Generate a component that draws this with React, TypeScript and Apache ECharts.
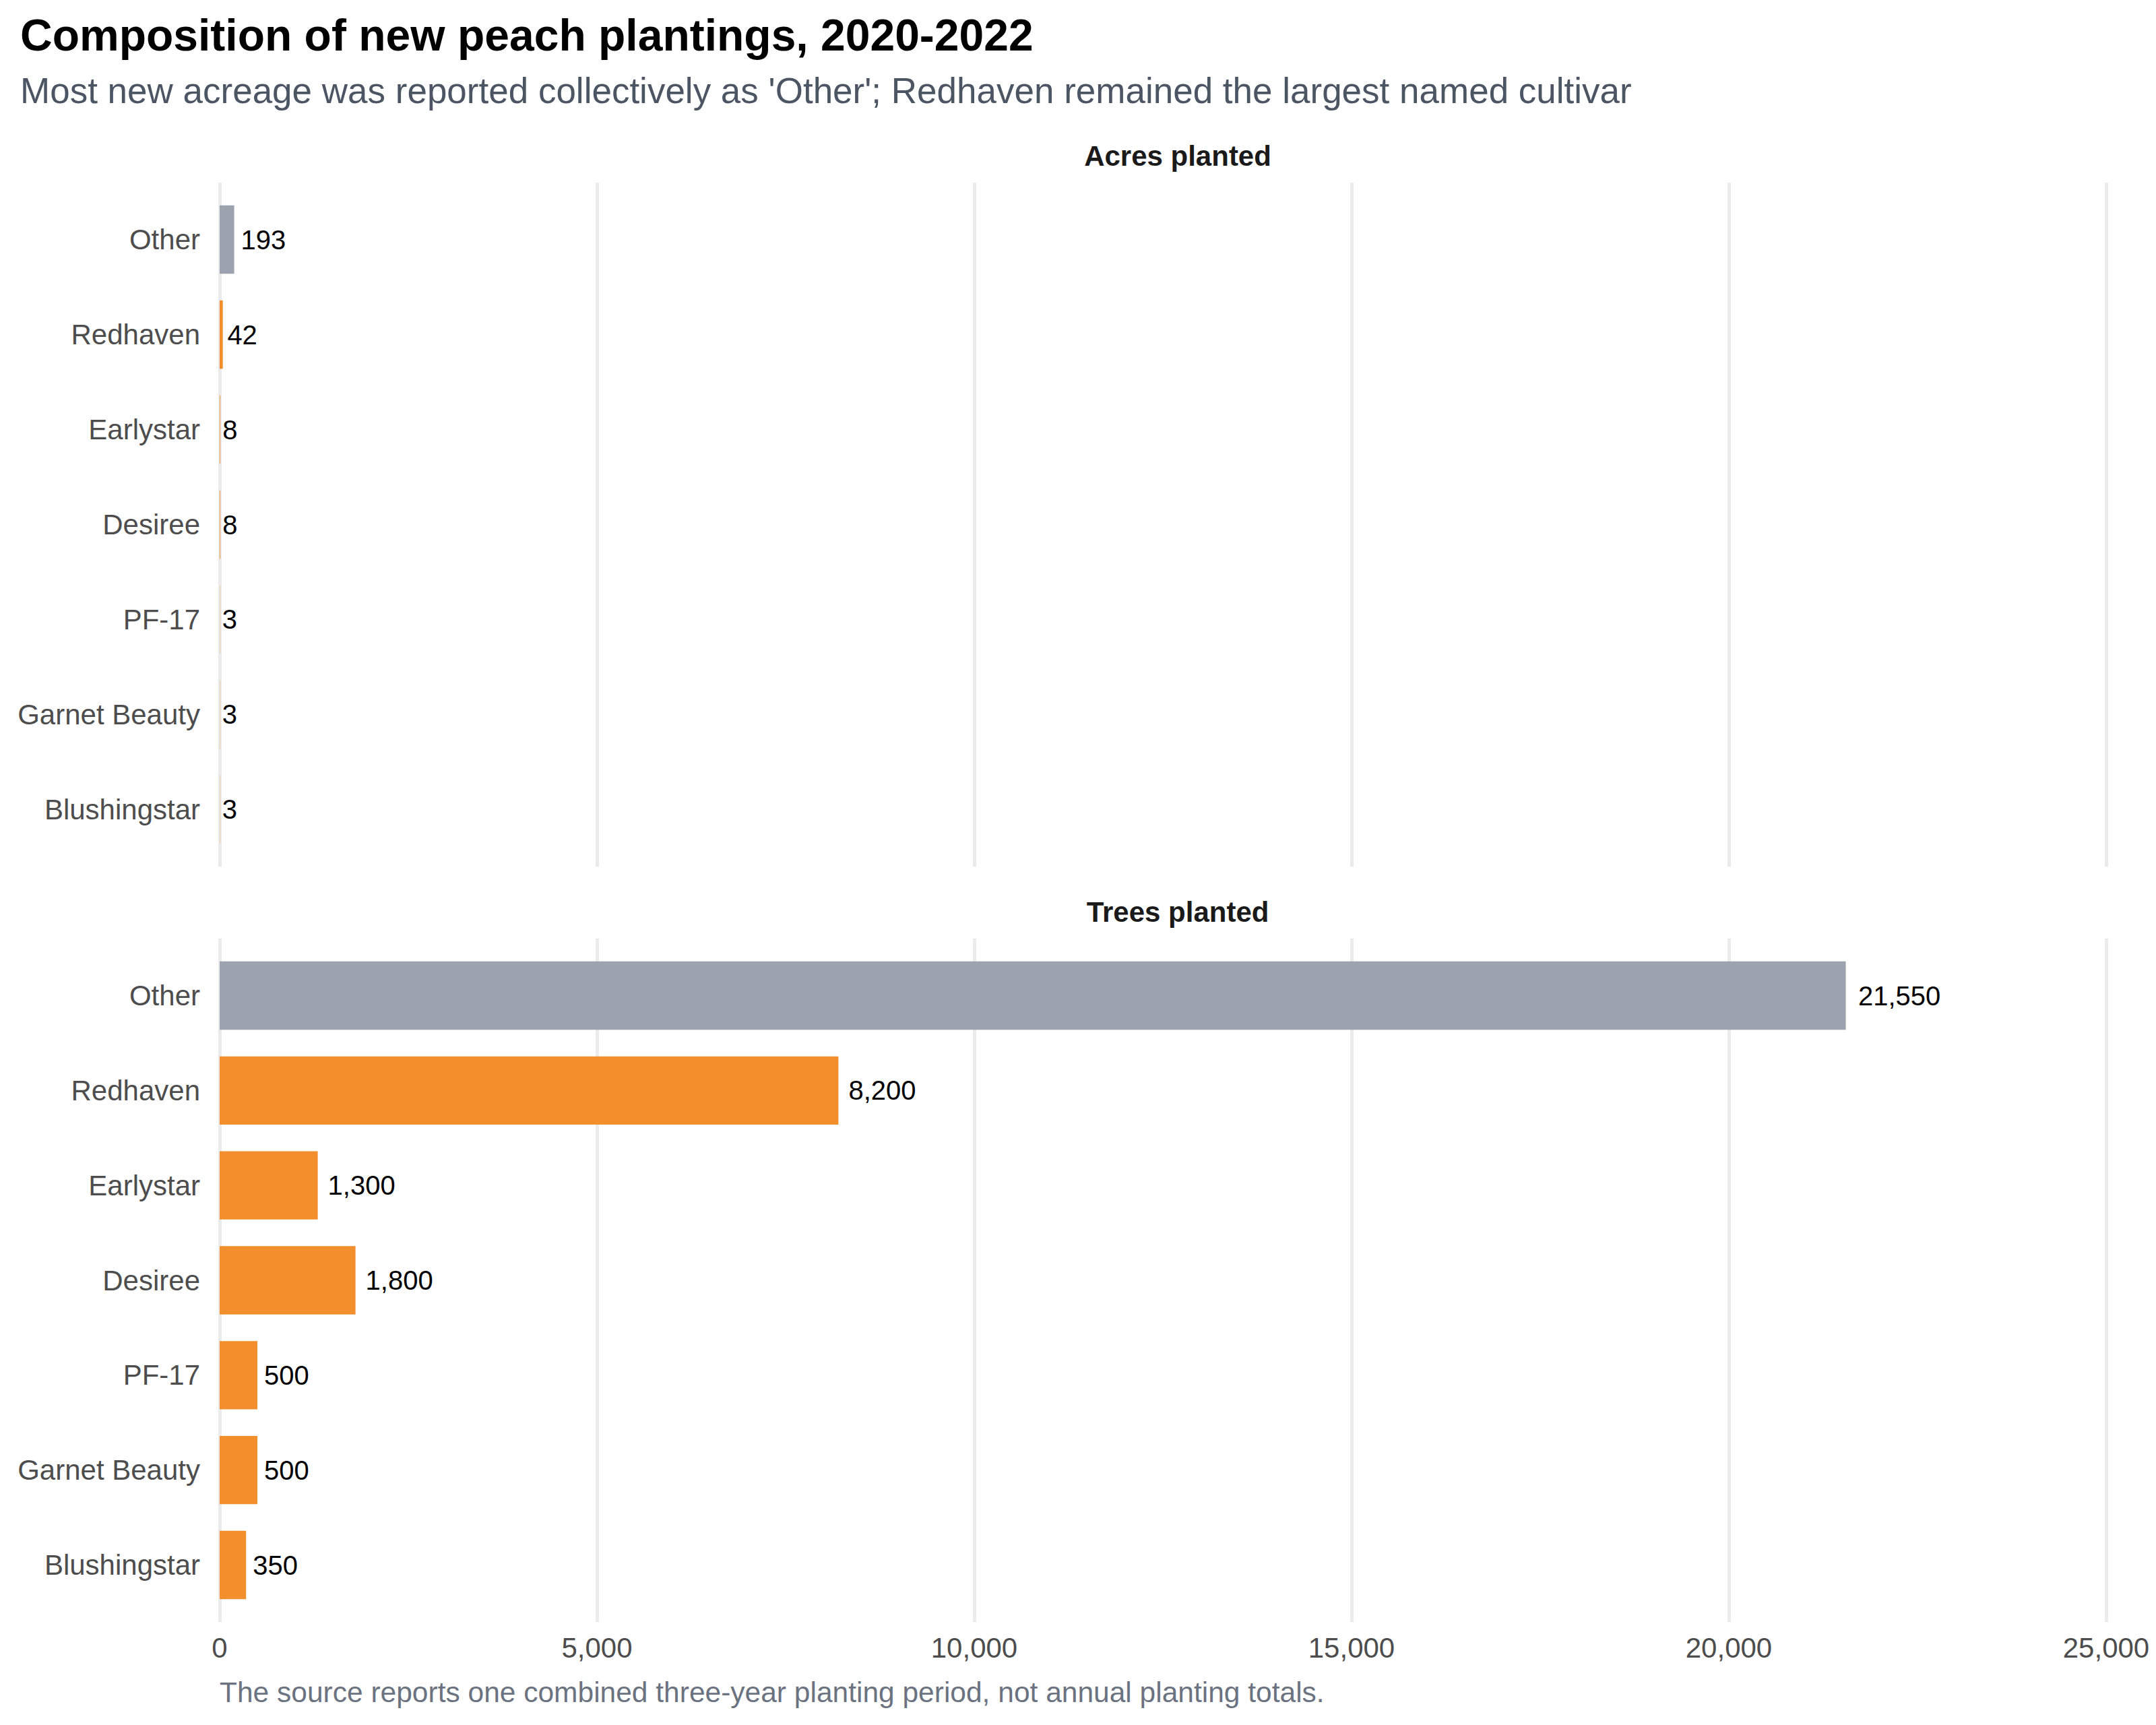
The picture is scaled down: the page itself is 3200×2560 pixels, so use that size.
import React, { useEffect, useRef } from 'react';
import * as echarts from 'echarts';

// cultivars, top to bottom
const categories = [
  'Other',
  'Redhaven',
  'Earlystar',
  'Desiree',
  'PF-17',
  'Garnet Beauty',
  'Blushingstar',
];
const acresPlanted = [193, 42, 8, 8, 3, 3, 3];
const treesPlanted = [21550, 8200, 1300, 1800, 500, 500, 350];
const panelTitles = ['Acres planted', 'Trees planted'];
// shared x scale (fixed facet scales)
const xMin = 0;
const xMax = 25000;
const xStep = 5000;

const GRAY = '#9CA3AF';
const ORANGE = '#F28E2B';
const FONT = '"Liberation Sans", Arial, sans-serif';

const PLOT_LEFT = 326;
const PLOT_WIDTH = 2800;
const panels = [
  { top: 271, height: 1015 },
  { top: 1393, height: 1014 },
];

const fmt = (v: number) => v.toLocaleString('en-US');
// ggplot-like hjust offset: a fraction of the label width
const labelGap = (v: number) => {
  const s = fmt(v);
  const digits = s.replace(/,/g, '').length;
  const commas = s.length - digits;
  return 0.15 * (digits * 0.556 + commas * 0.278) * 40;
};

const App: React.FC = () => {
  const chartref = useRef<HTMLDivElement>(null);
  useEffect(() => {
    document.body.style.margin = '0';
    const myChart = echarts.init(chartref.current as HTMLDivElement, null, {
      renderer: 'svg',
    });

    const grids: any[] = [];
    const xAxes: any[] = [];
    const yAxes: any[] = [];
    const series: any[] = [];
    const valuesByPanel = [acresPlanted, treesPlanted];

    panels.forEach((p, k) => {
      const inset = (0.1 * p.height) / 7.2;
      // background grid: vertical gridlines across the full panel
      grids.push({
        left: PLOT_LEFT,
        width: PLOT_WIDTH,
        top: p.top,
        height: p.height,
      });
      // bar grid: inset so the category bands match the panel expansion
      grids.push({
        left: PLOT_LEFT,
        width: PLOT_WIDTH,
        top: p.top + inset,
        height: p.height - 2 * inset,
      });
      const bg = k * 2;
      const fg = k * 2 + 1;
      xAxes.push({
        gridIndex: bg,
        type: 'value',
        min: xMin,
        max: xMax,
        interval: xStep,
        axisLine: { show: false },
        axisTick: { show: false },
        axisLabel: {
          show: k === panels.length - 1,
          margin: 17,
          fontFamily: FONT,
          fontSize: 42,
          color: '#4D4D4D',
          formatter: (v: number) => fmt(v),
        },
        splitLine: { lineStyle: { color: '#EBEBEB', width: 5 } },
      });
      xAxes.push({
        gridIndex: fg,
        type: 'value',
        min: xMin,
        max: xMax,
        interval: xStep,
        show: false,
      });
      yAxes.push({ gridIndex: bg, type: 'value', show: false });
      yAxes.push({
        gridIndex: fg,
        type: 'category',
        inverse: true,
        data: categories,
        axisLine: { show: false },
        axisTick: { show: false },
        splitLine: { show: false },
        axisLabel: {
          margin: 29,
          fontFamily: FONT,
          fontSize: 42,
          color: '#4D4D4D',
        },
      });
      series.push({
        type: 'bar',
        name: panelTitles[k],
        xAxisIndex: fg,
        yAxisIndex: fg,
        barWidth: '72%',
        data: valuesByPanel[k].map((v, i) => ({
          value: v,
          itemStyle: { color: categories[i] === 'Other' ? GRAY : ORANGE },
          label: { distance: labelGap(v) },
        })),
        label: {
          show: true,
          position: 'right',
          fontFamily: FONT,
          fontSize: 40,
          color: '#000000',
          formatter: (d: any) => fmt(d.value),
        },
      });
    });

    const panelCenter = 1748;
    const option: echarts.EChartsOption = {
      animation: false,
      backgroundColor: '#FFFFFF',
      grid: grids,
      xAxis: xAxes,
      yAxis: yAxes,
      series,
      graphic: [
        {
          type: 'text',
          x: 30,
          y: 52,
          style: {
            text: 'Composition of new peach plantings, 2020-2022',
            font: `bold 66px ${FONT}`,
            fill: '#000000',
            align: 'left',
            verticalAlign: 'middle',
          },
        },
        {
          type: 'text',
          x: 30,
          y: 134,
          style: {
            text: "Most new acreage was reported collectively as 'Other'; Redhaven remained the largest named cultivar",
            font: `53px ${FONT}`,
            fill: '#4B5563',
            align: 'left',
            verticalAlign: 'middle',
          },
        },
        ...panels.map((p, k) => ({
          type: 'text' as const,
          x: panelCenter,
          y: p.top - 40,
          style: {
            text: panelTitles[k],
            font: `bold 42px ${FONT}`,
            fill: '#1A1A1A',
            align: 'center',
            verticalAlign: 'middle',
          },
        })),
        {
          type: 'text',
          x: PLOT_LEFT,
          y: 2511,
          style: {
            text: 'The source reports one combined three-year planting period, not annual planting totals.',
            font: `42.5px ${FONT}`,
            fill: '#6B7280',
            align: 'left',
            verticalAlign: 'middle',
          },
        },
      ],
    };
    myChart.setOption(option);

    return () => {
      myChart.dispose();
    };
  }, []);

  return <div ref={chartref} style={{ width: 3200, height: 2560 }} />;
};

export default App;
